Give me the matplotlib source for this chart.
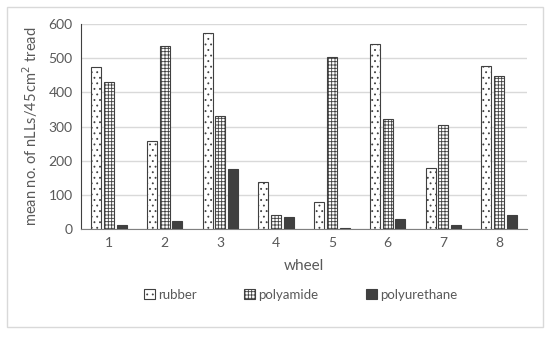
import matplotlib
matplotlib.use("Agg")
import matplotlib.pyplot as plt
import numpy as np
from matplotlib.patches import Rectangle

plt.rcParams['font.family'] = ['Lato', 'DejaVu Sans']
plt.rcParams['hatch.linewidth'] = 0.6

wheels = ['1', '2', '3', '4', '5', '6', '7', '8']
rubber = [474, 258, 573, 138, 79, 541, 178, 477]
polyamide = [430, 537, 331, 40, 504, 321, 304, 448]
polyurethane = [12, 23, 175, 34, 3, 28, 13, 41]
series_names = ['rubber', 'polyamide', 'polyurethane']

fig = plt.figure(figsize=(5.5, 3.37), dpi=100)
fig.patches.append(Rectangle((7/550, 1-327/337), 536/550, 320/337, transform=fig.transFigure,
                             fill=False, edgecolor='#d9d9d9', linewidth=1))
ax = fig.add_axes([81/550, 1-229/337, 446/550, 205/337])

x = np.arange(len(wheels))
w = 0.18
off = 0.23
tc = '#595959'
b1 = ax.bar(x - off, rubber, w, facecolor='white', edgecolor='#404040', hatch='...', linewidth=0.8, label=series_names[0], zorder=3)
b2 = ax.bar(x, polyamide, w, facecolor='white', edgecolor='#404040', hatch='+++++', linewidth=0.8, label=series_names[1], zorder=3)
b3 = ax.bar(x + off, polyurethane, w, facecolor='#404040', edgecolor='#404040', linewidth=0.8, label=series_names[2], zorder=3)

ax.set_xlim(-0.5, len(wheels) - 0.5)
ax.set_ylim(0, 600)
ax.set_yticks(range(0, 601, 100))
ax.set_xticks(x)
ax.set_xticklabels(wheels)
ax.yaxis.grid(True, color='#d9d9d9', linewidth=1, zorder=0)
ax.set_axisbelow(True)
for s in ['top', 'right']:
    ax.spines[s].set_visible(False)
ax.spines['left'].set_color('#404040')
ax.spines['bottom'].set_color('#808080')
ax.tick_params(axis='both', length=0, labelsize=10, colors=tc, pad=6)
ax.set_xlabel('wheel', fontsize=11, color=tc, labelpad=7)
ax.set_ylabel('mean no. of nLLs/45\u2009cm$^{2}$ tread', fontsize=10.5, color=tc, labelpad=6,
              family=['Lato', 'DejaVu Sans'])

for h, name, px in zip([b1, b2, b3], series_names, [144, 244, 366]):
    leg = fig.legend([h], [name], loc='center left', bbox_to_anchor=(px/550, 1-295/337),
                     frameon=False, fontsize=9.5, handlelength=0.8, handleheight=0.8,
                     handletextpad=0.3, borderaxespad=0, borderpad=0)
    for t in leg.get_texts():
        t.set_color(tc)

fig.savefig('out.png', dpi=100)
